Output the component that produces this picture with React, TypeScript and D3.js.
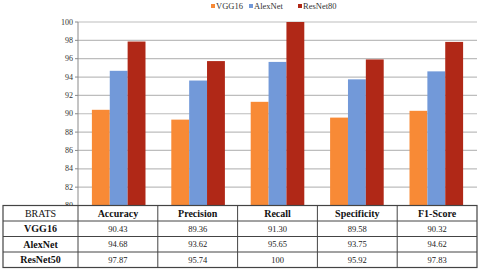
import React from "react";
import * as d3 from "d3";

const categories = ["Accuracy", "Precision", "Recall", "Specificity", "F1-Score"];
const seriesNames = ["VGG16", "AlexNet", "ResNet50"];
const legendLabels = ["VGG16", "AlexNet", "ResNet80"];
const vgg16 = [90.43, 89.36, 91.3, 89.58, 90.32];
const alexnet = [94.68, 93.62, 95.65, 93.75, 94.62];
const resnet50 = [97.87, 95.74, 100, 95.92, 97.83];
const tableText = [
  ["90.43", "89.36", "91.30", "89.58", "90.32"],
  ["94.68", "93.62", "95.65", "93.75", "94.62"],
  ["97.87", "95.74", "100", "95.92", "97.83"],
];
const yTicks = [80, 82, 84, 86, 88, 90, 92, 94, 96, 98, 100];
const colors = ["#F88A36", "#7299D9", "#B02817"];

export default function App() {
  const W = 480, H = 271;
  const left = 78, right = 477, top = 22, bottom = 205.5;
  const values = [vgg16, alexnet, resnet50];
  const x0 = d3.scaleBand<string>().domain(categories).range([left, right]).paddingInner(0.325).paddingOuter(0.175);
  const x1 = d3.scaleBand<string>().domain(seriesNames).range([0, x0.bandwidth()]);
  const y = d3.scaleLinear().domain([80, 100]).range([bottom, top]);
  const colScale = d3.scaleBand<string>().domain(categories).range([left, right]);
  const tableLeft = 3;
  const rowY = [205.5, 221, 236.5, 252, 267.5];
  const font = "'Liberation Serif', 'DejaVu Serif', serif";
  return (
    <svg width={W} height={H} style={{ position: "absolute", left: 0, top: 0, background: "#fff", fontFamily: font }}>
      <rect x={0} y={0} width={W} height={H} fill="#fff" />
      {yTicks.map((t) => (
        <line key={t} x1={left} x2={right} y1={y(t)} y2={y(t)} stroke="#BDBDBD" strokeWidth={1.2} />
      ))}
      <line x1={left} x2={left} y1={top} y2={bottom} stroke="#8a8a8a" strokeWidth={1} />
      {yTicks.map((t) => (
        <g key={"t" + t}>
          <line x1={left - 3} x2={left} y1={y(t)} y2={y(t)} stroke="#8a8a8a" />
          <text x={left - 5} y={y(t)} dy="0.32em" textAnchor="end" fontSize={8} fill="#333">{t}</text>
        </g>
      ))}
      {categories.map((c, i) => (
        <g key={c} transform={`translate(${x0(c)},0)`}>
          {seriesNames.map((s, j) => (
            <rect key={s} x={x1(s)} y={y(values[j][i])} width={x1.bandwidth()} height={y(80) - y(values[j][i])} fill={colors[j]} />
          ))}
        </g>
      ))}
      {legendLabels.map((l, j) => {
        const lx = [211, 249, 298][j];
        return (
          <g key={l}>
            <rect x={lx} y={4} width={4} height={4} fill={colors[j]} />
            <text x={lx + 5} y={8.5} fontSize={8.5} fill="#333">{l}</text>
          </g>
        );
      })}
      <rect x={tableLeft} y={rowY[0]} width={right - tableLeft} height={rowY[4] - rowY[0]} fill="#fff" stroke="#444" strokeWidth={1.2} />
      {rowY.slice(1, 4).map((ry, k) => (
        <line key={k} x1={tableLeft} x2={right} y1={ry} y2={ry} stroke="#444" strokeWidth={1} />
      ))}
      {categories.map((c) => (
        <line key={"v" + c} x1={colScale(c)} x2={colScale(c)} y1={rowY[0]} y2={rowY[4]} stroke="#444" strokeWidth={1} />
      ))}
      <text x={(tableLeft + left) / 2} y={(rowY[0] + rowY[1]) / 2} dy="0.35em" textAnchor="middle" fontSize={10} fill="#111">BRATS</text>
      {seriesNames.map((s, j) => (
        <text key={s} x={(tableLeft + left) / 2} y={(rowY[j + 1] + rowY[j + 2]) / 2} dy="0.35em" textAnchor="middle" fontSize={10} fontWeight="bold" fill="#111">{s}</text>
      ))}
      {categories.map((c, i) => (
        <g key={"h" + c}>
          <text x={(colScale(c) as number) + colScale.bandwidth() / 2} y={(rowY[0] + rowY[1]) / 2} dy="0.35em" textAnchor="middle" fontSize={10} fontWeight="bold" fill="#111">{c}</text>
          {tableText.map((row, j) => (
            <text key={j} x={(colScale(c) as number) + colScale.bandwidth() / 2} y={(rowY[j + 1] + rowY[j + 2]) / 2} dy="0.35em" textAnchor="middle" fontSize={8.5} fill="#222">{row[i]}</text>
          ))}
        </g>
      ))}
    </svg>
  );
}
